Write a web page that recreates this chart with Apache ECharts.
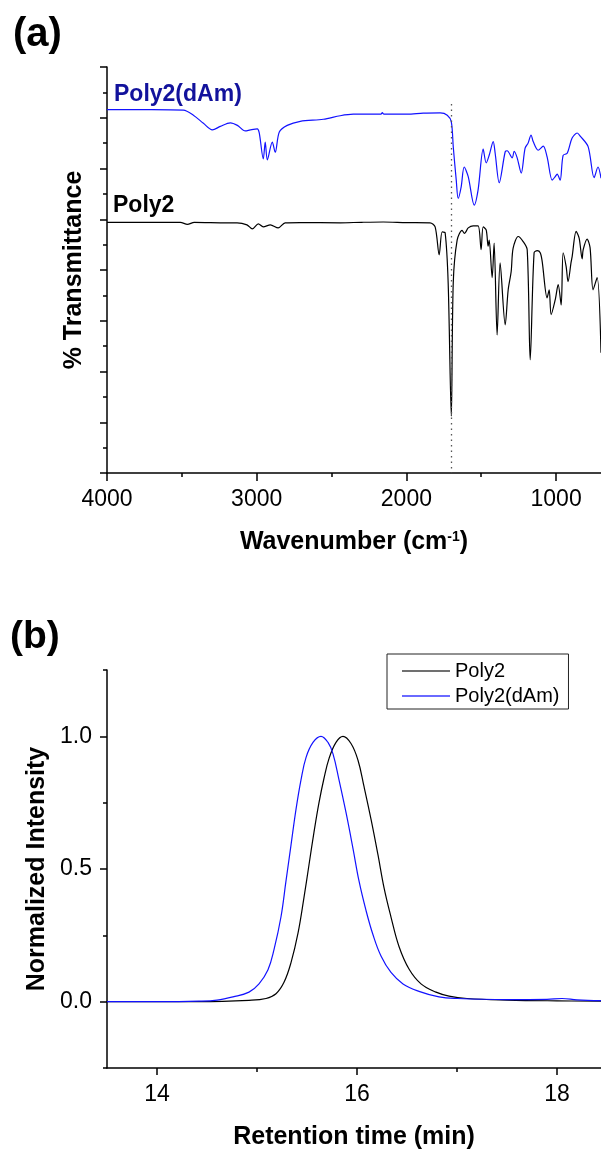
<!DOCTYPE html>
<html>
<head>
<meta charset="utf-8">
<title>FTIR and SEC of Poly2 / Poly2(dAm)</title>
<script src="https://cdn.jsdelivr.net/npm/echarts@6/dist/echarts.min.js"></script>
<style>
  html, body { margin: 0; padding: 0; background: #fff; }
  #chart { width: 601px; height: 1151px; }
</style>
</head>
<body>
<div id="chart"></div>
<script>
// ---------- (a) FTIR spectra: [wavenumber (cm-1), offset transmittance] ----------
const irPoly2dAm = [
  [4000, 7.16], [3700, 7.16], [3490, 7.15], [3423, 7.05], [3356, 6.89], [3296, 6.76],
  [3243, 6.83], [3176, 6.90], [3129, 6.85], [3076, 6.74], [3043, 6.76], [2996, 6.78],
  [2983, 6.70], [2956, 6.19], [2943, 6.52], [2929, 6.17], [2896, 6.52], [2876, 6.32],
  [2849, 6.72], [2796, 6.85], [2709, 6.93], [2555, 6.97], [2442, 7.04], [2355, 7.07],
  [2250, 7.07], [2170, 7.07], [2161, 7.10], [2150, 7.07], [1994, 7.07], [1888, 7.09],
  [1774, 7.095], [1727, 7.05], [1700, 6.92], [1687, 6.43], [1667, 5.77], [1654, 5.41],
  [1634, 5.64], [1614, 6.03], [1587, 5.84], [1547, 5.28], [1521, 5.58], [1487, 6.38],
  [1467, 6.11], [1447, 6.26], [1420, 6.53], [1407, 6.30], [1380, 5.72], [1340, 6.33],
  [1327, 6.35], [1293, 6.21], [1280, 6.34], [1260, 6.21], [1233, 5.91], [1207, 6.40],
  [1187, 6.50], [1167, 6.66], [1153, 6.53], [1120, 6.36], [1086, 6.44], [1060, 6.23],
  [1026, 5.77], [1006, 5.84], [993, 5.89], [973, 5.77], [953, 6.26], [926, 6.30],
  [893, 6.60], [859, 6.70], [839, 6.64], [786, 6.43], [746, 5.82], [720, 6.03], [700, 5.81]
];

const irPoly2 = [
  [4000, 4.94], [3700, 4.94], [3510, 4.94], [3463, 4.90], [3417, 4.94], [3200, 4.93],
  [3131, 4.93], [3065, 4.89], [3029, 4.81], [2989, 4.91], [2956, 4.85], [2909, 4.89],
  [2856, 4.83], [2810, 4.93], [2709, 4.935], [2442, 4.93], [2300, 4.94], [2155, 4.946],
  [2000, 4.935], [1842, 4.93], [1808, 4.85], [1781, 4.30], [1761, 4.75], [1741, 4.73],
  [1721, 3.75], [1700, 1.12], [1687, 3.75], [1661, 4.59], [1628, 4.78], [1612, 4.72],
  [1601, 4.76], [1587, 4.83], [1554, 4.87], [1521, 4.87], [1501, 4.40], [1487, 4.85],
  [1467, 4.79], [1454, 4.47], [1447, 4.59], [1427, 3.85], [1414, 4.53], [1394, 2.72],
  [1374, 4.14], [1340, 2.92], [1320, 3.61], [1300, 3.97], [1287, 4.43], [1253, 4.66],
  [1220, 4.56], [1193, 4.40], [1173, 2.23], [1147, 4.34], [1126, 4.38], [1106, 4.34],
  [1093, 4.17], [1060, 3.45], [1046, 3.61], [1033, 3.12], [1006, 3.41], [986, 3.71],
  [966, 3.31], [953, 4.34], [933, 4.07], [920, 3.77], [900, 4.15], [893, 4.26],
  [866, 4.76], [846, 4.63], [826, 4.22], [819, 4.40], [793, 4.61], [773, 4.44],
  [753, 3.61], [726, 3.85], [700, 2.37]
];

// carbonyl reference line: [wavenumber, top, bottom]
const carbonylLine = [1700, 7.27, 0];

const irMajorTicks = [1000, 2000, 3000, 4000];
const irMinorTicks = [1500, 2500, 3500];

// ---------- (b) SEC traces: [retention time (min), normalized intensity] ----------
const secPoly2 = [
  [13.5, 0], [14.0, 0], [14.42, 0.0], [14.92, 0.005], [15.09, 0.012], [15.19, 0.03],
  [15.27, 0.073], [15.34, 0.147], [15.41, 0.258], [15.47, 0.393], [15.52, 0.516],
  [15.57, 0.639], [15.62, 0.75], [15.67, 0.842], [15.72, 0.916], [15.79, 0.977],
  [15.86, 1.0], [15.94, 0.973], [16.01, 0.91], [16.07, 0.811], [16.14, 0.688],
  [16.21, 0.553], [16.27, 0.43], [16.34, 0.319], [16.42, 0.208], [16.52, 0.123],
  [16.64, 0.067], [16.79, 0.036], [16.92, 0.021], [17.1, 0.012], [17.5, 0.006],
  [18.0, 0.003], [18.44, 0.002]
];

const secPoly2dAm = [
  [13.5, 0], [14.0, 0], [14.42, 0.002], [14.6, 0.006], [14.76, 0.018], [14.92, 0.036],
  [15.02, 0.067], [15.11, 0.12], [15.17, 0.196], [15.24, 0.32], [15.29, 0.455],
  [15.34, 0.59], [15.39, 0.725], [15.44, 0.836], [15.49, 0.92], [15.56, 0.977],
  [15.64, 1.0], [15.71, 0.977], [15.76, 0.934], [15.82, 0.836], [15.89, 0.713],
  [15.96, 0.577], [16.02, 0.455], [16.09, 0.344], [16.16, 0.252], [16.24, 0.172],
  [16.34, 0.11], [16.46, 0.067], [16.62, 0.039], [16.82, 0.018], [17.0, 0.012],
  [17.5, 0.008], [17.9, 0.009], [18.05, 0.012], [18.2, 0.007], [18.44, 0.004]
];

const secMajorX = [14, 16, 18];
const secMinorX = [15, 17];
const secMajorY = [0, 0.5, 1.0];
const secMinorY = [-0.25, 0.25, 0.75, 1.25];

// ---------- styling ----------
const FONT = '"Liberation Sans", Arial, Helvetica, sans-serif';
const BLACK = '#000';
const BLUE = '#1212ff';
const axisLineStyle = { color: BLACK, width: 1.5 };
const tickLabel = { fontSize: 23, color: BLACK, fontFamily: FONT, margin: 15 };
const axisTitle = { fontSize: 25, fontWeight: 'bold', color: BLACK, fontFamily: FONT };

function minorAxis(base) {
  return Object.assign({
    type: 'value',
    axisLine: { show: false, onZero: false },
    axisLabel: { show: false },
    splitLine: { show: false }
  }, base);
}

const chart = echarts.init(document.getElementById('chart'), null, { renderer: 'canvas' });

const option = {
  animation: false,
  backgroundColor: '#fff',
  grid: [
    { left: 107, top: 67, right: 0, height: 406 },
    { left: 107, top: 670, right: 0, height: 405 }
  ],
  xAxis: [
    {
      gridIndex: 0, type: 'value', position: 'bottom',
      min: 700, max: 4000, inverse: true,
      axisLine: { show: true, onZero: false, lineStyle: axisLineStyle },
      axisTick: { show: true, customValues: irMajorTicks, length: 8, lineStyle: axisLineStyle },
      axisLabel: Object.assign({ customValues: irMajorTicks, formatter: v => String(v) }, tickLabel),
      splitLine: { show: false },
      name: 'Wavenumber (cm{sup|-1})',
      nameLocation: 'middle', nameGap: 57,
      nameTextStyle: Object.assign({
        rich: { sup: { fontSize: 14, fontWeight: 'bold', fontFamily: FONT, color: BLACK, verticalAlign: 'top', lineHeight: 14 } }
      }, axisTitle)
    },
    minorAxis({
      gridIndex: 0, position: 'bottom', min: 700, max: 4000, inverse: true,
      axisTick: { show: true, customValues: irMinorTicks, length: 4, lineStyle: axisLineStyle }
    }),
    {
      gridIndex: 1, type: 'value', position: 'bottom',
      min: 13.5, max: 18.44,
      axisLine: { show: true, onZero: false, lineStyle: axisLineStyle },
      axisTick: { show: true, customValues: secMajorX, length: 7, lineStyle: axisLineStyle },
      axisLabel: Object.assign({ customValues: secMajorX, formatter: v => String(v) }, tickLabel),
      splitLine: { show: false },
      name: 'Retention time (min)',
      nameLocation: 'middle', nameGap: 57,
      nameTextStyle: axisTitle
    },
    minorAxis({
      gridIndex: 1, position: 'bottom', min: 13.5, max: 18.44,
      axisTick: { show: true, customValues: secMinorX, length: 4, lineStyle: axisLineStyle }
    })
  ],
  yAxis: [
    {
      gridIndex: 0, type: 'value', position: 'left',
      min: 0, max: 8, interval: 1,
      axisLine: { show: true, onZero: false, lineStyle: axisLineStyle },
      axisTick: { show: true, length: 7, lineStyle: axisLineStyle },
      minorTick: { show: true, splitNumber: 2, length: 4, lineStyle: axisLineStyle },
      axisLabel: { show: false },
      splitLine: { show: false },
      name: '% Transmittance',
      nameLocation: 'middle', nameGap: 20, nameRotate: 90,
      nameTextStyle: axisTitle
    },
    {
      gridIndex: 1, type: 'value', position: 'left',
      min: -0.25, max: 1.25,
      axisLine: { show: true, onZero: false, lineStyle: axisLineStyle },
      axisTick: { show: true, customValues: secMajorY, length: 7, lineStyle: axisLineStyle },
      axisLabel: Object.assign({ customValues: secMajorY, formatter: v => v.toFixed(1) }, tickLabel),
      splitLine: { show: false },
      name: 'Normalized Intensity',
      nameLocation: 'middle', nameGap: 56, nameRotate: 90,
      nameTextStyle: axisTitle
    },
    minorAxis({
      gridIndex: 1, position: 'left', min: -0.25, max: 1.25,
      axisTick: { show: true, customValues: secMinorY, length: 4, lineStyle: axisLineStyle }
    })
  ],
  legend: {
    show: true,
    orient: 'vertical',
    left: 387, top: 654,
    padding: [7, 9, 3, 15],
    itemGap: 5,
    itemWidth: 48, itemHeight: 2,
    icon: 'rect',
    borderColor: '#222', borderWidth: 1,
    textStyle: { fontSize: 20, color: BLACK, fontFamily: FONT, lineHeight: 20 },
    data: [
      { name: 'Poly2', itemStyle: { color: '#707070' } },
      { name: 'Poly2(dAm)', itemStyle: { color: '#6a6aff' } }
    ]
  },
  graphic: [
    { type: 'text', left: 13, top: 15, style: { text: '(a)', font: 'bold 40px ' + FONT, fill: BLACK } },
    { type: 'text', left: 10, top: 618, style: { text: '(b)', font: 'bold 39px ' + FONT, fill: BLACK } },
    { type: 'text', x: 114, y: 95, style: { text: 'Poly2(dAm)', font: 'bold 23px ' + FONT, fill: '#12129c', textVerticalAlign: 'middle' } },
    { type: 'text', x: 113, y: 206, style: { text: 'Poly2', font: 'bold 23px ' + FONT, fill: BLACK, textVerticalAlign: 'middle' } }
  ],
  series: [
    {
      name: 'Poly2 FTIR', type: 'line', xAxisIndex: 0, yAxisIndex: 0,
      data: irPoly2, showSymbol: false, smooth: 0.3, silent: true,
      lineStyle: { color: BLACK, width: 1.2 }, itemStyle: { color: BLACK },
      markLine: {
        silent: true, symbol: 'none', label: { show: false },
        lineStyle: { color: '#555', width: 1.3, type: [1.5, 4] },
        data: [[{ coord: [carbonylLine[0], carbonylLine[1]] }, { coord: [carbonylLine[0], carbonylLine[2]] }]]
      }
    },
    {
      name: 'Poly2(dAm) FTIR', type: 'line', xAxisIndex: 0, yAxisIndex: 0,
      data: irPoly2dAm, showSymbol: false, smooth: 0.3, silent: true,
      lineStyle: { color: BLUE, width: 1.2 }, itemStyle: { color: BLUE }
    },
    {
      name: 'Poly2', type: 'line', xAxisIndex: 2, yAxisIndex: 1,
      data: secPoly2, showSymbol: false, smooth: 0.4, silent: true,
      lineStyle: { color: BLACK, width: 1.2 }, itemStyle: { color: BLACK }
    },
    {
      name: 'Poly2(dAm)', type: 'line', xAxisIndex: 2, yAxisIndex: 1,
      data: secPoly2dAm, showSymbol: false, smooth: 0.4, silent: true,
      lineStyle: { color: BLUE, width: 1.2 }, itemStyle: { color: BLUE }
    }
  ]
};

chart.setOption(option);
</script>
</body>
</html>
